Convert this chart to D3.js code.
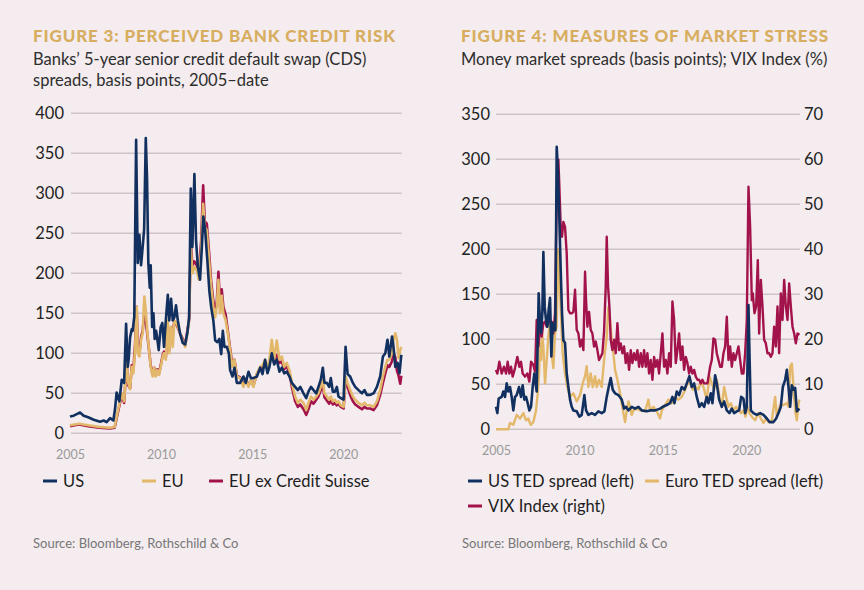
<!DOCTYPE html>
<html>
<head>
<meta charset="utf-8">
<script src="https://cdn.jsdelivr.net/npm/d3@7"></script>
<style>
  body { margin: 0; background: #f4ecef; }
  svg { display: block; font-family: "Lato", "Open Sans", sans-serif; }
</style>
</head>
<body>
<svg id="chart" width="864" height="590"></svg>
<script>
// ---- Figure 3 data: banks' 5y CDS, bp (decimal year, value)
const cdsUS = [[2005.00,21],[2005.20,22],[2005.37,24],[2005.55,26],[2005.75,22],[2006.0,20],[2006.3,17],[2006.65,14.5],[2006.85,16],[2007.01,14],[2007.20,19],[2007.38,16],[2007.47,30],[2007.56,51],[2007.71,40],[2007.84,67],[2007.97,63],[2008.08,137],[2008.17,83],[2008.22,92],[2008.30,120],[2008.39,130],[2008.44,128],[2008.53,146],[2008.63,367],[2008.72,213],[2008.81,248],[2008.90,210],[2008.96,225],[2009.07,255],[2009.16,369],[2009.23,318],[2009.30,213],[2009.38,182],[2009.43,210],[2009.51,133],[2009.58,150],[2009.65,118],[2009.73,128],[2009.80,117],[2009.87,104],[2009.98,133],[2010.07,138],[2010.16,108],[2010.26,141],[2010.37,173],[2010.45,141],[2010.55,168],[2010.64,141],[2010.73,145],[2010.82,160],[2010.92,141],[2011.04,125],[2011.19,113],[2011.32,111],[2011.44,125],[2011.54,145],[2011.63,306],[2011.72,233],[2011.83,324],[2011.92,241],[2012.02,208],[2012.14,192],[2012.24,233],[2012.32,271],[2012.42,254],[2012.54,216],[2012.65,178],[2012.75,158],[2012.87,141],[2012.97,116],[2013.09,114],[2013.20,118],[2013.30,99],[2013.39,128],[2013.48,108],[2013.61,108],[2013.72,100],[2013.79,79],[2013.92,71],[2014.03,82],[2014.16,63],[2014.34,63],[2014.52,71],[2014.65,63],[2014.80,77],[2014.93,69],[2015.07,69],[2015.26,71],[2015.44,82],[2015.57,74],[2015.71,92],[2015.84,75],[2015.95,83],[2016.08,100],[2016.21,86],[2016.35,92],[2016.50,77],[2016.63,82],[2016.76,75],[2016.90,77],[2017.05,71],[2017.18,63],[2017.36,58],[2017.51,54],[2017.64,58],[2017.82,50],[2017.97,44],[2018.09,52],[2018.23,58],[2018.37,54],[2018.52,50],[2018.64,58],[2018.77,67],[2018.88,82],[2018.97,63],[2019.10,63],[2019.23,58],[2019.32,69],[2019.43,52],[2019.54,52],[2019.65,58],[2019.74,46],[2019.87,44],[2020.02,42],[2020.13,108],[2020.24,74],[2020.38,71],[2020.53,63],[2020.66,58],[2020.84,54],[2021.03,50],[2021.17,54],[2021.30,48],[2021.48,48],[2021.67,50],[2021.85,58],[2022.03,71],[2022.18,96],[2022.31,100],[2022.43,117],[2022.53,96],[2022.68,121],[2022.76,108],[2022.86,83],[2022.99,88],[2023.09,75],[2023.19,98]];

const cdsEU = [[2005.00,10],[2005.25,11],[2005.50,12],[2006.0,10],[2006.6,8],[2007.2,7],[2007.45,8],[2007.60,25],[2007.84,50],[2007.97,40],[2008.11,90],[2008.20,63],[2008.30,55],[2008.39,83],[2008.48,75],[2008.57,104],[2008.66,158],[2008.72,100],[2008.81,96],[2008.90,117],[2008.99,125],[2009.08,171],[2009.16,154],[2009.25,125],[2009.36,100],[2009.43,83],[2009.54,71],[2009.62,82],[2009.71,71],[2009.80,79],[2009.89,73],[2009.98,83],[2010.09,96],[2010.16,100],[2010.26,92],[2010.37,141],[2010.45,100],[2010.55,133],[2010.64,108],[2010.73,141],[2010.86,137],[2011.04,125],[2011.19,116],[2011.32,108],[2011.44,125],[2011.54,141],[2011.63,233],[2011.72,200],[2011.83,208],[2011.96,204],[2012.07,192],[2012.20,229],[2012.31,287],[2012.40,258],[2012.51,254],[2012.64,216],[2012.75,183],[2012.87,158],[2012.97,145],[2013.06,158],[2013.15,192],[2013.24,150],[2013.33,172],[2013.42,150],[2013.55,141],[2013.70,120],[2013.79,104],[2013.92,83],[2014.03,92],[2014.16,71],[2014.34,69],[2014.52,58],[2014.65,67],[2014.80,58],[2014.93,67],[2015.07,58],[2015.26,75],[2015.44,83],[2015.57,85],[2015.71,92],[2015.84,83],[2015.95,92],[2016.08,117],[2016.21,92],[2016.35,116],[2016.50,92],[2016.63,96],[2016.76,83],[2016.90,88],[2017.05,79],[2017.18,63],[2017.36,46],[2017.51,38],[2017.64,42],[2017.82,38],[2017.97,29],[2018.09,38],[2018.23,46],[2018.37,42],[2018.52,46],[2018.64,50],[2018.77,58],[2018.88,67],[2018.97,50],[2019.10,46],[2019.23,42],[2019.32,46],[2019.43,40],[2019.54,42],[2019.65,38],[2019.74,40],[2019.87,35],[2020.02,33],[2020.13,71],[2020.24,63],[2020.38,54],[2020.53,46],[2020.66,42],[2020.84,38],[2021.03,35],[2021.17,38],[2021.30,35],[2021.48,35],[2021.67,33],[2021.85,40],[2022.03,54],[2022.18,71],[2022.31,83],[2022.43,92],[2022.53,92],[2022.68,100],[2022.76,117],[2022.86,125],[2022.95,117],[2023.04,94],[2023.13,104],[2023.19,108]];

const cdsEUexCS = [[2005.00,9],[2005.25,10],[2005.50,11],[2006.0,9],[2006.6,7],[2007.2,6],[2007.45,7],[2007.60,23],[2007.84,48],[2007.97,38],[2008.11,88],[2008.20,60],[2008.30,56],[2008.39,85],[2008.48,80],[2008.57,110],[2008.66,158],[2008.72,105],[2008.81,100],[2008.90,120],[2008.99,128],[2009.08,150],[2009.16,140],[2009.25,122],[2009.36,100],[2009.43,85],[2009.54,73],[2009.62,82],[2009.71,72],[2009.80,80],[2009.89,75],[2009.98,85],[2010.09,98],[2010.16,102],[2010.26,95],[2010.37,135],[2010.45,104],[2010.55,132],[2010.64,125],[2010.73,140],[2010.86,135],[2011.04,125],[2011.19,118],[2011.32,110],[2011.44,128],[2011.54,142],[2011.63,240],[2011.72,210],[2011.83,215],[2011.96,210],[2012.07,198],[2012.20,240],[2012.31,310],[2012.40,265],[2012.51,262],[2012.64,225],[2012.75,190],[2012.87,165],[2012.97,152],[2013.06,165],[2013.15,202],[2013.24,158],[2013.33,180],[2013.42,158],[2013.55,148],[2013.70,122],[2013.79,106],[2013.92,85],[2014.03,92],[2014.16,72],[2014.34,70],[2014.52,60],[2014.65,68],[2014.80,60],[2014.93,66],[2015.07,60],[2015.26,74],[2015.44,80],[2015.57,82],[2015.71,90],[2015.84,80],[2015.95,88],[2016.08,100],[2016.21,88],[2016.35,98],[2016.50,88],[2016.63,90],[2016.76,80],[2016.90,84],[2017.05,75],[2017.18,58],[2017.36,40],[2017.51,33],[2017.64,36],[2017.82,30],[2017.97,23],[2018.09,30],[2018.23,40],[2018.37,37],[2018.52,42],[2018.64,46],[2018.77,54],[2018.88,60],[2018.97,45],[2019.10,41],[2019.23,37],[2019.32,42],[2019.43,36],[2019.54,38],[2019.65,35],[2019.74,37],[2019.87,33],[2020.02,31],[2020.13,68],[2020.24,58],[2020.38,48],[2020.53,40],[2020.66,36],[2020.84,33],[2021.03,30],[2021.17,33],[2021.30,31],[2021.48,31],[2021.67,29],[2021.85,35],[2022.03,48],[2022.18,63],[2022.31,75],[2022.43,85],[2022.53,83],[2022.68,90],[2022.76,100],[2022.86,95],[2022.95,78],[2023.04,72],[2023.13,62],[2023.19,72]];

// ---- Figure 4 data: TED spreads (bp, left) and VIX (%, right)
const tedUS = [[2005.00,25],[2005.08,18],[2005.16,34],[2005.34,36],[2005.44,42],[2005.54,36],[2005.64,51],[2005.74,42],[2005.84,47],[2005.94,36],[2006.04,21],[2006.14,36],[2006.24,38],[2006.38,47],[2006.50,36],[2006.60,49],[2006.70,33],[2006.80,36],[2006.90,29],[2007.00,21],[2007.10,25],[2007.20,47],[2007.30,62],[2007.44,42],[2007.56,151],[2007.64,118],[2007.70,107],[2007.78,129],[2007.84,197],[2007.92,136],[2008.00,121],[2008.08,114],[2008.16,133],[2008.24,146],[2008.32,81],[2008.40,118],[2008.48,110],[2008.56,110],[2008.64,314],[2008.72,284],[2008.80,233],[2008.88,177],[2008.96,129],[2009.04,99],[2009.14,96],[2009.24,62],[2009.34,47],[2009.44,33],[2009.54,25],[2009.64,21],[2009.84,20],[2010.00,14],[2010.14,16],[2010.30,38],[2010.40,21],[2010.54,16],[2010.74,18],[2010.94,16],[2011.14,20],[2011.34,18],[2011.50,20],[2011.64,36],[2011.76,47],[2011.88,57],[2012.00,44],[2012.14,40],[2012.34,38],[2012.54,33],[2012.68,23],[2012.80,25],[2012.94,21],[2013.14,25],[2013.34,23],[2013.54,25],[2013.74,21],[2014.04,20],[2014.24,21],[2014.54,21],[2014.84,23],[2015.00,25],[2015.24,27],[2015.44,29],[2015.58,36],[2015.70,29],[2015.84,42],[2015.98,38],[2016.14,47],[2016.30,44],[2016.44,51],[2016.60,59],[2016.74,47],[2016.88,51],[2017.04,36],[2017.20,25],[2017.34,29],[2017.48,25],[2017.64,36],[2017.74,29],[2017.88,40],[2017.98,29],[2018.14,60],[2018.24,51],[2018.38,33],[2018.54,25],[2018.68,31],[2018.84,21],[2019.00,18],[2019.14,23],[2019.28,18],[2019.44,20],[2019.58,21],[2019.70,36],[2019.84,34],[2019.94,18],[2020.04,25],[2020.14,138],[2020.20,84],[2020.28,21],[2020.44,18],[2020.64,16],[2020.84,18],[2021.04,16],[2021.24,12],[2021.40,8],[2021.64,8],[2021.80,12],[2021.94,18],[2022.08,25],[2022.20,47],[2022.34,55],[2022.44,66],[2022.54,47],[2022.64,25],[2022.74,49],[2022.84,44],[2022.94,46],[2023.04,20],[2023.20,23]];

const tedEuro = [[2005.00,0],[2005.74,0],[2005.84,7],[2006.04,5],[2006.24,16],[2006.44,12],[2006.64,18],[2006.80,10],[2006.94,12],[2007.08,5],[2007.24,8],[2007.40,21],[2007.50,40],[2007.58,62],[2007.64,96],[2007.70,77],[2007.76,107],[2007.84,92],[2007.94,51],[2008.04,77],[2008.14,103],[2008.24,121],[2008.34,84],[2008.44,68],[2008.54,107],[2008.64,114],[2008.74,200],[2008.88,136],[2009.00,84],[2009.14,62],[2009.28,47],[2009.44,36],[2009.64,40],[2009.84,31],[2010.04,38],[2010.20,51],[2010.34,59],[2010.44,70],[2010.54,47],[2010.68,62],[2010.80,47],[2010.94,59],[2011.04,47],[2011.18,55],[2011.34,47],[2011.48,77],[2011.64,103],[2011.74,136],[2011.84,121],[2011.94,99],[2012.04,84],[2012.14,66],[2012.28,55],[2012.40,44],[2012.54,29],[2012.64,18],[2012.74,8],[2012.84,21],[2012.94,31],[2013.04,25],[2013.14,16],[2013.24,21],[2013.44,23],[2013.64,21],[2013.94,20],[2014.14,33],[2014.24,21],[2014.44,25],[2014.64,20],[2014.84,12],[2014.94,21],[2015.14,27],[2015.34,33],[2015.54,29],[2015.74,36],[2015.94,33],[2016.14,36],[2016.34,44],[2016.48,51],[2016.64,51],[2016.80,44],[2017.00,47],[2017.14,44],[2017.28,53],[2017.44,47],[2017.64,33],[2017.80,59],[2017.94,51],[2018.08,44],[2018.24,55],[2018.40,36],[2018.54,25],[2018.68,47],[2018.80,36],[2018.94,25],[2019.08,29],[2019.24,21],[2019.40,25],[2019.54,21],[2019.70,18],[2019.84,21],[2019.96,14],[2020.08,25],[2020.20,18],[2020.34,14],[2020.54,10],[2020.74,18],[2020.88,12],[2021.04,7],[2021.20,12],[2021.34,8],[2021.54,10],[2021.74,36],[2021.84,14],[2022.04,27],[2022.24,27],[2022.44,29],[2022.54,25],[2022.64,70],[2022.74,73],[2022.88,36],[2022.96,18],[2023.04,10],[2023.14,29],[2023.20,33]];

const vix = [[2005.00,13.2],[2005.08,12.4],[2005.20,15],[2005.34,12.4],[2005.48,13.9],[2005.60,12.4],[2005.70,15],[2005.80,12.4],[2005.90,13.9],[2006.00,11.7],[2006.14,13.6],[2006.28,16.1],[2006.40,13.9],[2006.50,15],[2006.60,12.4],[2006.74,11.7],[2006.88,12.4],[2007.00,10.6],[2007.10,15],[2007.24,14.3],[2007.34,12.8],[2007.44,24.3],[2007.54,18.4],[2007.64,22.8],[2007.74,20.6],[2007.84,23.6],[2007.94,23.9],[2008.04,22.8],[2008.14,23.6],[2008.24,24.3],[2008.34,23.9],[2008.44,21.3],[2008.54,25.8],[2008.64,51.7],[2008.74,59.9],[2008.80,53.9],[2008.88,45],[2008.96,42.8],[2009.04,46.1],[2009.14,45],[2009.24,39.1],[2009.34,26.5],[2009.44,25.8],[2009.54,25.8],[2009.64,26.1],[2009.74,31],[2009.84,22.1],[2009.94,21.3],[2010.04,18.4],[2010.14,19.9],[2010.24,17.6],[2010.34,35],[2010.40,28.7],[2010.48,22.8],[2010.58,26.1],[2010.68,22.1],[2010.78,21.3],[2010.88,18.4],[2010.98,19.5],[2011.08,17.6],[2011.18,15.4],[2011.28,16.1],[2011.38,16.9],[2011.48,21.7],[2011.58,31.7],[2011.64,42.8],[2011.72,31.7],[2011.80,27.3],[2011.88,19.9],[2011.98,17.6],[2012.08,19.9],[2012.18,16.9],[2012.28,23.6],[2012.38,17.6],[2012.48,19.1],[2012.58,16.9],[2012.68,18.4],[2012.78,14.7],[2012.88,16.9],[2012.98,13.2],[2013.08,17.6],[2013.18,14.7],[2013.28,16.9],[2013.38,15.4],[2013.48,17.6],[2013.58,13.9],[2013.68,16.9],[2013.78,13.9],[2013.88,17.6],[2013.98,13.9],[2014.08,16.9],[2014.18,12.4],[2014.28,15.4],[2014.38,11],[2014.48,16.1],[2014.58,13.9],[2014.68,15.4],[2014.78,12.4],[2014.88,16.9],[2014.98,21.3],[2015.08,13.9],[2015.18,15.4],[2015.28,12.4],[2015.38,16.9],[2015.48,13.9],[2015.58,28.4],[2015.68,24.3],[2015.78,14.7],[2015.88,17.6],[2015.98,21.3],[2016.08,15.4],[2016.18,18.4],[2016.28,13.2],[2016.38,16.1],[2016.48,14.7],[2016.58,12.4],[2016.68,13.9],[2016.78,12.4],[2016.88,13.2],[2016.98,11.7],[2017.08,11],[2017.18,11],[2017.28,10.2],[2017.38,11],[2017.48,10.2],[2017.58,10.2],[2017.68,10.2],[2017.84,13.9],[2017.94,15.4],[2018.04,20.2],[2018.14,19.9],[2018.24,16.9],[2018.34,15.4],[2018.44,13.9],[2018.54,13.9],[2018.64,16.9],[2018.74,18.4],[2018.84,25],[2018.94,15.4],[2019.04,18.4],[2019.14,13.9],[2019.24,16.9],[2019.34,15.4],[2019.44,16.9],[2019.54,18.4],[2019.64,15.4],[2019.74,12.4],[2019.84,12.4],[2019.94,16.9],[2020.04,24.3],[2020.14,53.9],[2020.24,45],[2020.34,28.7],[2020.40,30.2],[2020.50,25.8],[2020.60,27.3],[2020.70,37.6],[2020.78,21.3],[2020.88,33.2],[2020.98,27.3],[2021.08,19.9],[2021.18,19.1],[2021.28,16.9],[2021.38,16.9],[2021.48,16.1],[2021.58,16.9],[2021.68,22.8],[2021.78,18.4],[2021.88,27.3],[2021.98,16.9],[2022.08,30.2],[2022.18,24.3],[2022.28,33.2],[2022.38,27.3],[2022.48,24.3],[2022.58,32.4],[2022.68,27.3],[2022.78,22.8],[2022.88,21.3],[2022.98,19.1],[2023.08,21.3],[2023.20,21]];

const cdsTicks = [0, 50, 100, 150, 200, 250, 300, 350, 400];
const tedTicks = [0, 50, 100, 150, 200, 250, 300, 350];
const vixTicks = [0, 10, 20, 30, 40, 50, 60, 70];
const yearTicks = [2005, 2010, 2015, 2020];

const NAVY = "#11305f", GOLD = "#e3b86a", CRIMSON = "#a3134b";
const GRID = "#cdc3c9", GOLDTITLE = "#d7ae60";

const svg = d3.select("#chart");
svg.append("rect").attr("width", 864).attr("height", 590).attr("fill", "#f4ecef");

function header(x, width, title, lines) {
    svg.append("text")
        .attr("x", x).attr("y", 42)
        .attr("fill", GOLDTITLE)
        .attr("font-size", 17)
        .attr("font-weight", 900)
        .attr("textLength", width)
        .attr("lengthAdjust", "spacing")
        .text(title);
    lines.forEach((l, i) => {
        svg.append("text")
            .attr("x", x).attr("y", 65 + i * 21)
            .attr("fill", "#2e2e2e")
            .attr("font-size", 16.5)
            .text(l);
    });
}

function legend(items) {
    items.forEach(it => {
        svg.append("line")
            .attr("x1", it.x).attr("x2", it.x + 14)
            .attr("y1", it.y).attr("y2", it.y)
            .attr("stroke", it.color).attr("stroke-width", 3);
        svg.append("text")
            .attr("x", it.x + 20).attr("y", it.y + 6)
            .attr("fill", "#1e1e1e")
            .attr("font-size", 16.5)
            .text(it.label);
    });
}

function source(x) {
    svg.append("text")
        .attr("x", x).attr("y", 548)
        .attr("fill", "#777")
        .attr("font-size", 13)
        .text("Source: Bloomberg, Rothschild & Co");
}

function grid(g, y, ticks, x0, x1) {
    g.selectAll(null).data(ticks).enter().append("line")
        .attr("x1", x0).attr("x2", x1)
        .attr("y1", d => y(d)).attr("y2", d => y(d))
        .attr("stroke", GRID).attr("stroke-width", 1.4);
}

function yearAxis(g, x, yPos) {
    const ax = g.append("g").attr("transform", `translate(0,${yPos})`)
        .call(d3.axisBottom(x).tickValues(yearTicks).tickFormat(d3.format("d")).tickSize(0));
    ax.select(".domain").remove();
    ax.selectAll("text").attr("fill", "#9a9a9a").attr("font-size", 12.5)
        .attr("font-family", "Lato, sans-serif");
}

function styleY(ax, anchor) {
    ax.select(".domain").remove();
    ax.selectAll("text").attr("fill", "#222").attr("font-size", 16.5)
        .attr("font-family", "Lato, sans-serif").attr("text-anchor", anchor);
}

// ---------- Figure 3
header(33, 362, "FIGURE 3: PERCEIVED BANK CREDIT RISK",
    ["Banks\u2019 5-year senior credit default swap (CDS)", "spreads, basis points, 2005\u2013date"]);

const g3 = svg.append("g");
const x3 = d3.scaleLinear().domain([2005, 2023.2]).range([70, 401.5]);
const y3 = d3.scaleLinear().domain([0, 400]).range([433.3, 113.3]);

grid(g3, y3, cdsTicks, 71, 401.7);
styleY(g3.append("g").attr("transform", "translate(64,0)")
    .call(d3.axisLeft(y3).tickValues(cdsTicks).tickSize(0).tickPadding(0)), "end");
yearAxis(g3, x3, 447);

const line3 = d3.line().x(d => x3(d[0])).y(d => y3(d[1]));
[[cdsEUexCS, CRIMSON], [cdsEU, GOLD], [cdsUS, NAVY]].forEach(([data, c]) => {
    g3.append("path").datum(data).attr("d", line3)
        .attr("fill", "none").attr("stroke", c)
        .attr("stroke-width", 2.6).attr("stroke-linejoin", "round");
});

legend([
    { x: 43, y: 481, color: NAVY, label: "US" },
    { x: 142, y: 481, color: GOLD, label: "EU" },
    { x: 209, y: 481, color: CRIMSON, label: "EU ex Credit Suisse" }
]);
source(33);

// ---------- Figure 4
header(461, 367, "FIGURE 4: MEASURES OF MARKET STRESS",
    ["Money market spreads (basis points); VIX Index (%)"]);

const g4 = svg.append("g");
const x4 = d3.scaleLinear().domain([2005, 2023.2]).range([496, 799.5]);
const y4 = d3.scaleLinear().domain([0, 350]).range([429.3, 114.3]);
const y4r = d3.scaleLinear().domain([0, 70]).range([429.3, 114.3]);

grid(g4, y4, tedTicks, 496, 800);
styleY(g4.append("g").attr("transform", "translate(490,0)")
    .call(d3.axisLeft(y4).tickValues(tedTicks).tickSize(0).tickPadding(0)), "end");
styleY(g4.append("g").attr("transform", "translate(804,0)")
    .call(d3.axisRight(y4r).tickValues(vixTicks).tickSize(0).tickPadding(0)), "start");
yearAxis(g4, x4, 443);

const line4 = d3.line().x(d => x4(d[0])).y(d => y4(d[1]));
const line4r = d3.line().x(d => x4(d[0])).y(d => y4r(d[1]));
g4.append("path").datum(tedEuro).attr("d", line4)
    .attr("fill", "none").attr("stroke", GOLD).attr("stroke-width", 2.4).attr("stroke-linejoin", "round");
g4.append("path").datum(vix).attr("d", line4r)
    .attr("fill", "none").attr("stroke", CRIMSON).attr("stroke-width", 2.4).attr("stroke-linejoin", "round");
g4.append("path").datum(tedUS).attr("d", line4)
    .attr("fill", "none").attr("stroke", NAVY).attr("stroke-width", 2.6).attr("stroke-linejoin", "round");

legend([
    { x: 468, y: 481, color: NAVY, label: "US TED spread (left)" },
    { x: 645, y: 481, color: GOLD, label: "Euro TED spread (left)" },
    { x: 468, y: 506, color: CRIMSON, label: "VIX Index (right)" }
]);
source(462);
</script>
</body>
</html>
